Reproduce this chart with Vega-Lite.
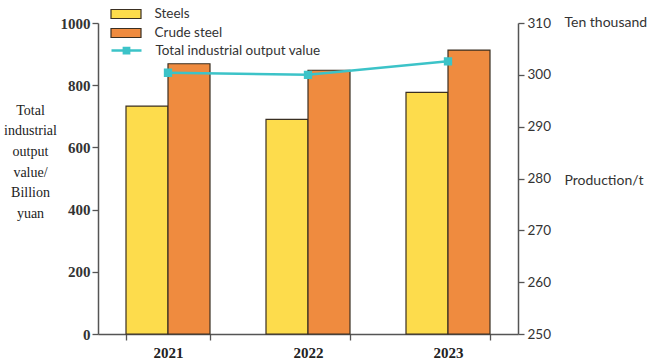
{
  "$schema": "https://vega.github.io/schema/vega-lite/v6.json",
  "autosize": {"type": "none"},
  "width": 420,
  "height": 311,
  "padding": {"left": 98, "top": 23, "right": 132, "bottom": 29},
  "background": "white",
  "config": {
    "view": {"stroke": null},
    "axis": {"domainColor": "#555", "tickColor": "#555", "domainWidth": 1.5, "tickWidth": 1.3, "tickSize": 6, "grid": false}
  },
  "datasets": {
    "bars": [
      {"Year": "2021", "Type": "Steels", "Value": 733},
      {"Year": "2021", "Type": "Crude steel", "Value": 869},
      {"Year": "2022", "Type": "Steels", "Value": 690},
      {"Year": "2022", "Type": "Crude steel", "Value": 848},
      {"Year": "2023", "Type": "Steels", "Value": 777},
      {"Year": "2023", "Type": "Crude steel", "Value": 913}
    ],
    "line": [
      {"Year": "2021", "Series": "Total industrial output value", "Value": 300.4},
      {"Year": "2022", "Series": "Total industrial output value", "Value": 300.0},
      {"Year": "2023", "Series": "Total industrial output value", "Value": 302.6}
    ]
  },
  "encoding": {
    "x": {
      "field": "Year", "type": "nominal",
      "scale": {"paddingInner": 0.4, "paddingOuter": 0.2},
      "axis": {"title": null, "labelAngle": 0, "tickBand": "extent", "labelFont": "Liberation Serif", "labelFontWeight": "bold", "labelFontSize": 15, "labelColor": "#222", "labelPadding": 5}
    }
  },
  "layer": [
    {
      "data": {"name": "bars"},
      "mark": {"type": "bar", "stroke": "#3a2f22", "strokeWidth": 1.2},
      "encoding": {
        "xOffset": {"field": "Type", "type": "nominal", "sort": ["Steels", "Crude steel"], "scale": {"paddingInner": 0, "paddingOuter": 0}},
        "y": {
          "field": "Value", "type": "quantitative",
          "scale": {"domain": [0, 1000], "nice": false},
          "axis": {
            "values": [0, 200, 400, 600, 800, 1000], "format": "d",
            "title": ["Total", "industrial", "output", "value/", "Billion", "yuan"],
            "titleAngle": 0, "titleAlign": "center", "titleBaseline": "top",
            "titleX": -68, "titleY": 80, "titleFont": "Liberation Serif", "titleFontWeight": "normal",
            "titleFontSize": 14, "titleLineHeight": 20.7, "titleColor": "#222",
            "labelFont": "Liberation Serif", "labelFontWeight": "bold", "labelFontSize": 15, "labelColor": "#333", "labelPadding": 2
          }
        },
        "fill": {
          "field": "Type", "type": "nominal",
          "scale": {"domain": ["Steels", "Crude steel"], "range": ["#FDDC4C", "#EF8B3F"]},
          "legend": {
            "title": null, "orient": "none", "legendX": 19.5, "legendY": -17.5, "padding": 0,
            "symbolType": "M-2,-0.6H2V0.6H-2Z", "symbolSize": 225, "symbolStrokeColor": "#3a2f22", "symbolStrokeWidth": 1.2,
            "rowPadding": 3, "labelOffset": 20, "labelFont": "Lato", "labelFontSize": 13.5, "labelColor": "#333", "labelLimit": 300
          }
        }
      }
    },
    {
      "data": {"name": "line"},
      "mark": {"type": "line", "strokeWidth": 2.5, "point": {"shape": "square", "size": 40, "filled": true, "color": "#3CC3C8"}},
      "encoding": {
        "y": {
          "field": "Value", "type": "quantitative",
          "scale": {"domain": [250, 310], "nice": false, "zero": false},
          "axis": {
            "orient": "right",
            "values": [250, 260, 270, 280, 290, 300, 310],
            "title": ["Ten thousand", "\u200b", "\u200b\u200b", "\u200b\u200b\u200b", "\u200b\u200b\u200b\u200b", "\u200b\u200b\u200b\u200b\u200b", "\u200b\u200b\u200b\u200b\u200b\u200b", "\u200b\u200b\u200b\u200b\u200b\u200b\u200b", "\u200b\u200b\u200b\u200b\u200b\u200b\u200b\u200b", "Production/t"],
            "titleAngle": 0, "titleAlign": "left", "titleBaseline": "top",
            "titleX": 46, "titleY": -8, "titleFont": "Lato", "titleFontWeight": "normal",
            "titleFontSize": 14, "titleLineHeight": 17.6, "titleColor": "#333",
            "labelFont": "Lato", "labelFontSize": 13.5, "labelColor": "#333", "labelPadding": 3
          }
        },
        "stroke": {
          "field": "Series", "type": "nominal",
          "scale": {"range": ["#3CC3C8"]},
          "legend": {
            "title": null, "orient": "none", "legendX": 19.5, "legendY": 18.5, "padding": 0,
            "symbolType": "M-2,0H2M-0.35,-0.35H0.35V0.35H-0.35Z", "symbolSize": 225, "symbolStrokeWidth": 2.5,
            "symbolFillColor": "#3CC3C8",
            "labelOffset": 20, "labelFont": "Lato", "labelFontSize": 13.5, "labelColor": "#333", "labelLimit": 300
          }
        }
      }
    }
  ],
  "resolve": {"scale": {"y": "independent"}}
}
